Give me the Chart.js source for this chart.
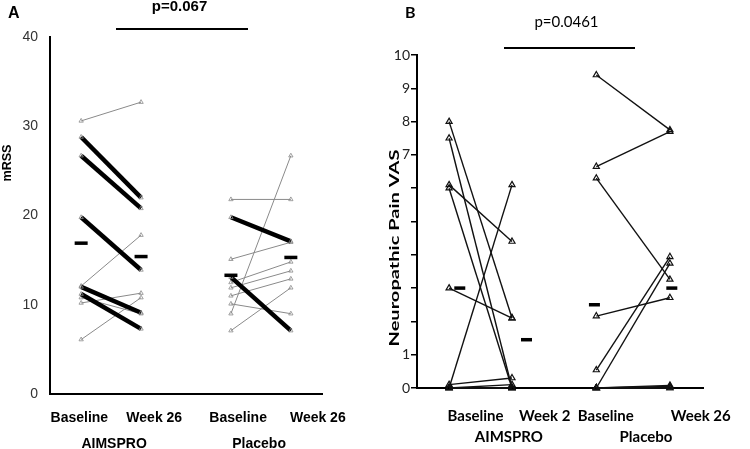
<!DOCTYPE html>
<html lang="en">
<head>
<meta charset="UTF-8" />
<title>mRSS and Neuropathic Pain VAS</title>
<script src="https://cdn.jsdelivr.net/npm/chart.js"></script>
<style>
  body { margin: 0; background: #fff; }
  #wrap { position: relative; width: 750px; height: 449px; }
  canvas { position: absolute; top: 0; }
  #chartA { left: 0; }
  #chartB { left: 375px; }
</style>
</head>
<body>
<div id="wrap">
  <canvas id="chartA" width="375" height="449"></canvas>
  <canvas id="chartB" width="375" height="449"></canvas>
</div>
<script>
// ---- Panel A : mRSS ----
const aVisitLabels = ['Baseline', 'Week 26', 'Baseline', 'Week 26'];
const aGroupLabels = ['AIMSPRO', 'Placebo'];
const aVisitX = [1, 2, 3.5, 4.5];
const aLabelX = [0.97, 2.22, 3.62, 4.95];
const aGroupX = [1.55, 3.97];
const aTicks = [0, 10, 20, 30, 40];

// responders (thick) and the rest (thin grey): baseline -> week 26
const aDrugRespBase = [28.8, 26.7, 19.8, 12.0, 11.2];
const aDrugRespWk26 = [22.0, 20.8, 13.9, 9.1, 7.3];
const aDrugOtherBase = [30.6, 12.1, 10.2, 10.8, 6.1];
const aDrugOtherWk26 = [32.7, 17.8, 11.3, 9.0, 10.8];
const aPlacRespBase = [19.8, 13.1];
const aPlacRespWk26 = [17.1, 7.1];
const aPlacOtherBase = [21.8, 15.1, 12.5, 11.9, 11.0, 10.1, 9.0, 7.1];
const aPlacOtherWk26 = [21.8, 17.0, 14.8, 13.8, 12.9, 9.0, 26.7, 11.9];
const aMeans = [16.9, 15.4, 13.3, 15.3];

// ---- Panel B : Neuropathic Pain VAS ----
const bVisitLabels = ['Baseline', 'Week 2', 'Baseline', 'Week 26'];
const bGroupLabels = ['AIMSPRO', 'Placebo'];
const bVisitX = [1, 2, 3.34, 4.51];
const bLabelX = [1.42, 2.52, 3.49, 5.0];
const bGroupX = [1.95, 4.13];
const bShownTicks = [0, 1, 7, 8, 9, 10];

const bDrugBase = [8.0, 7.5, 6.1, 6.0, 3.0, 0.1, 0, 0, 0, 0];
const bDrugWk2 = [2.1, 0, 4.4, 0, 2.1, 0.3, 6.1, 0.1, 0, 0];
const bPlacBase = [9.4, 6.65, 6.3, 2.16, 0.54, 0, 0, 0, 0, 0];
const bPlacWk26 = [7.75, 7.7, 3.26, 2.71, 3.94, 3.74, 0.08, 0.05, 0, 0];
const bMeans = [3.0, 1.45, 2.5, 3.0];
const bMeanX = [1.17, 2.23, 3.31, 4.54];

const ARIAL = '"Liberation Sans", Arial, sans-serif';
const CALI = 'Lato, "Open Sans", sans-serif';

function pairs(base, follow, x0, x1, style) {
  return base.map((b, i) => Object.assign({
    data: [{ x: x0, y: b }, { x: x1, y: follow[i] }],
    showLine: true,
    clip: false,
    pointStyle: 'triangle'
  }, style));
}

function fixedTicks(values) {
  return scale => { scale.ticks = values.map(v => ({ value: v })); };
}

// letters, p-value, bracket line and rotated axis title
function decor(o) {
  return {
    id: 'decor',
    afterDraw(chart) {
      const ctx = chart.ctx;
      ctx.save();
      ctx.fillStyle = '#000';
      ctx.textBaseline = 'alphabetic';
      ctx.textAlign = 'left';
      ctx.font = o.letterFont;
      ctx.fillText(o.letter, o.letterX, o.letterY);
      ctx.textAlign = 'center';
      ctx.font = o.pFont;
      ctx.fillText(o.pText, o.pX, o.pY);
      ctx.strokeStyle = '#000';
      ctx.lineWidth = 2;
      ctx.beginPath();
      ctx.moveTo(o.barX0, o.barY);
      ctx.lineTo(o.barX1, o.barY);
      ctx.stroke();
      // the figure is stretched vertically, so the rotated title is too
      ctx.font = o.titleFont;
      const w = ctx.measureText(o.title).width;
      ctx.translate(o.titleX, o.titleY);
      ctx.rotate(-Math.PI / 2);
      ctx.scale(o.titleLen / w, 1);
      ctx.textBaseline = 'middle';
      ctx.fillText(o.title, 0, 0);
      ctx.restore();
    }
  };
}

function xScales(min, max, labelX, labels, groupX, groups, font, pad1, h1, pad2, h2) {
  return {
    x: {
      type: 'linear', position: 'bottom', min: min, max: max, bounds: 'data',
      grid: { display: false, drawTicks: false },
      border: { display: true, color: '#000', width: 2 },
      afterBuildTicks: fixedTicks(labelX),
      afterFit: s => { s.height = h1; },
      ticks: {
        autoSkip: false, maxRotation: 0, padding: pad1, color: '#000',
        font: font, callback: (v, i) => labels[i]
      }
    },
    x2: {
      type: 'linear', position: 'bottom', min: min, max: max, bounds: 'data',
      grid: { display: false, drawTicks: false },
      border: { display: false },
      afterBuildTicks: fixedTicks(groupX),
      afterFit: s => { s.height = h2; },
      ticks: {
        autoSkip: false, maxRotation: 0, padding: pad2, color: '#000',
        font: font, callback: (v, i) => groups[i]
      }
    }
  };
}

const common = {
  responsive: false,
  animation: false,
  events: [],
  plugins: { legend: { display: false }, tooltip: { enabled: false } }
};

// ----- chart A -----
const aThin = { borderColor: '#8a8a8a', borderWidth: 1, pointRadius: 2.5, pointBorderWidth: 0.8,
  pointBorderColor: '#8a8a8a', pointBackgroundColor: 'rgba(255,255,255,0)', order: 2 };
const aThick = { borderColor: '#000', borderWidth: 4.5, pointRadius: 2.5, pointBorderWidth: 0.8,
  pointBorderColor: '#8a8a8a', pointBackgroundColor: 'rgba(255,255,255,0)', order: 1 };

const aData = [].concat(
  pairs(aDrugOtherBase, aDrugOtherWk26, aVisitX[0], aVisitX[1], aThin),
  pairs(aPlacOtherBase, aPlacOtherWk26, aVisitX[2], aVisitX[3], aThin),
  pairs(aDrugRespBase, aDrugRespWk26, aVisitX[0], aVisitX[1], aThick),
  pairs(aPlacRespBase, aPlacRespWk26, aVisitX[2], aVisitX[3], aThick),
  [{
    data: aMeans.map((m, i) => ({ x: aVisitX[i], y: m })),
    showLine: false, clip: false, pointStyle: 'line', pointRadius: 6.5,
    pointBorderWidth: 3.5, pointBorderColor: '#000', order: 0
  }]
);

new Chart(document.getElementById('chartA'), {
  type: 'scatter',
  data: { datasets: aData },
  options: Object.assign({}, common, {
    layout: { padding: { left: 0, right: 53, top: 37, bottom: 0 } },
    scales: Object.assign(
      xScales(0.48, 5.02, aLabelX, aVisitLabels, aGroupX, aGroupLabels,
        { family: ARIAL, size: 14, weight: 'bold' }, 16, 34, 8, 21),
      {
        y: {
          min: 0, max: 40,
          afterBuildTicks: fixedTicks(aTicks),
          afterFit: s => { s.width = 50; },
          grid: { display: false, drawTicks: false },
          border: { display: true, color: '#000', width: 2 },
          ticks: { padding: 12, color: '#333', font: { family: ARIAL, size: 14 } }
        }
      })
  }),
  plugins: [decor({
    letter: 'A', letterFont: 'bold 16px ' + ARIAL, letterX: 8, letterY: 18,
    pText: 'p=0.067', pFont: 'bold 15px ' + ARIAL, pX: 179.5, pY: 11,
    barX0: 116, barX1: 248, barY: 29,
    title: 'mRSS', titleFont: 'bold 12px ' + ARIAL, titleX: 7.5, titleY: 163, titleLen: 37
  })]
});

// ----- chart B -----
const bLine = { borderColor: '#111', borderWidth: 1.4, pointRadius: 3.5, pointBorderWidth: 1.2,
  pointBorderColor: '#111', pointBackgroundColor: 'rgba(255,255,255,0)', order: 1 };

const bData = [].concat(
  pairs(bDrugBase, bDrugWk2, bVisitX[0], bVisitX[1], bLine),
  pairs(bPlacBase, bPlacWk26, bVisitX[2], bVisitX[3], bLine),
  [{
    data: bMeans.map((m, i) => ({ x: bMeanX[i], y: m })),
    showLine: false, clip: false, pointStyle: 'line', pointRadius: 5.5,
    pointBorderWidth: 3.5, pointBorderColor: '#000', order: 0
  }]
);

new Chart(document.getElementById('chartB'), {
  type: 'scatter',
  data: { datasets: bData },
  options: Object.assign({}, common, {
    layout: { padding: { left: 0, right: 28, top: 55, bottom: 0 } },
    scales: Object.assign(
      xScales(0.49, 5.045, bLabelX, bVisitLabels, bGroupX, bGroupLabels,
        { family: CALI, size: 15, weight: 'bold' }, 19, 38, 2, 23),
      {
        y: {
          min: 0, max: 10,
          afterFit: s => { s.width = 42; },
          grid: { display: true, drawOnChartArea: false, drawTicks: true, tickLength: 6,
            color: '#000', lineWidth: 1.5 },
          border: { display: true, color: '#000', width: 2 },
          ticks: {
            stepSize: 1, padding: 1, color: '#222', font: { family: CALI, size: 14 },
            callback: v => (bShownTicks.includes(v) ? String(v) : '')
          }
        }
      })
  }),
  plugins: [decor({
    letter: 'B', letterFont: 'bold 16px ' + CALI, letterX: 30, letterY: 18,
    pText: 'p=0.0461', pFont: '15px ' + CALI, pX: 191.5, pY: 26.5,
    barX0: 129, barX1: 260, barY: 48,
    title: 'Neuropathic Pain VAS', titleFont: 'bold 13px ' + CALI, titleX: 20, titleY: 248, titleLen: 197
  })]
});
</script>
</body>
</html>
